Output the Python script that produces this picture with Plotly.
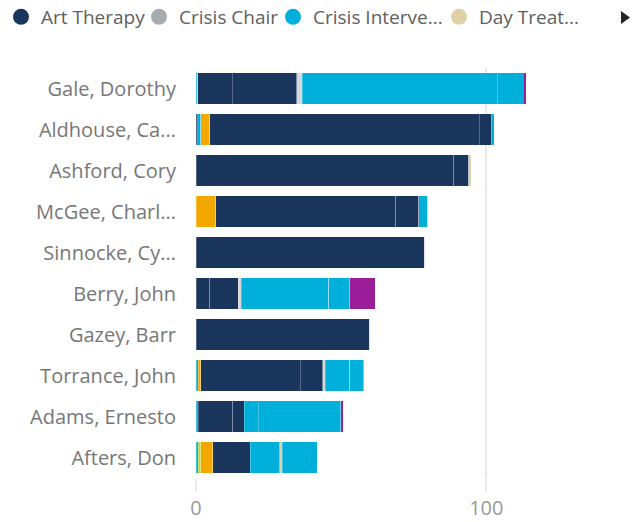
import plotly.graph_objects as go

patients = ["Gale, Dorothy", "Aldhouse, Ca...", "Ashford, Cory", "McGee, Charl...",
            "Sinnocke, Cy...", "Berry, John", "Gazey, Barr", "Torrance, John",
            "Adams, Ernesto", "Afters, Don"]

# stacked segments in drawing order (values per patient, same order as above)
seg_other_navy   = [0, 0.65, 0, 0, 0, 0, 0, 0, 0, 0]
seg_other_cyan   = [0.55, 1.0, 0, 0, 0, 0, 0, 0.7, 0.7, 0.7]
seg_other_green  = [0, 0, 0, 0, 0, 0, 0, 0, 0, 1.0]
seg_other_orange = [0, 3.1, 0, 6.8, 0, 0, 0, 1.0, 0, 4.0]
art_therapy      = [12.0, 92.9, 88.7, 62.0, 78.8, 4.7, 59.8, 34.2, 12.0, 13.0]
art_therapy_2    = [22.2, 4.0, 5.2, 8.0, 0, 9.8, 0, 7.8, 3.9, 0]
crisis_chair     = [1.9, 0, 0, 0, 0, 1.1, 0, 0.9, 0, 0]
crisis_interv    = [67.2, 1.1, 0, 3.1, 0, 30.1, 0, 8.3, 4.9, 10.1]
day_treatment    = [0, 0, 0.9, 0, 0, 0, 0, 0, 0, 0.9]
crisis_interv_2  = [8.9, 0, 0, 0, 0, 7.2, 0, 4.8, 28.3, 12.1]
seg_other_purple = [0.95, 0, 0, 0, 0, 8.9, 0, 0, 0.9, 0]

legend_labels = ["Art Therapy", "Crisis Chair", "Crisis Interve...", "Day Treat..."]

NAVY = "#1B365D"
GRAY = "#D5D8DA"
GRAY_LEG = "#A5ABAE"
CYAN = "#00B0DA"
TAN = "#DFD1A7"
ORANGE = "#F3A800"
PURPLE = "#9A1F99"
GREEN = "#C4D62E"

segments = [
    ("Other", seg_other_navy, NAVY),
    ("Crisis Intervention", seg_other_cyan, CYAN),
    ("Other", seg_other_green, GREEN),
    ("Other", seg_other_orange, ORANGE),
    ("Art Therapy", art_therapy, NAVY),
    ("Art Therapy", art_therapy_2, NAVY),
    ("Crisis Chair", crisis_chair, GRAY),
    ("Crisis Intervention", crisis_interv, CYAN),
    ("Day Treatment", day_treatment, TAN),
    ("Crisis Intervention", crisis_interv_2, CYAN),
    ("Other", seg_other_purple, PURPLE),
]

# page body has an 8px margin, so the figure is 8px smaller than the window
W, H = 633, 514
L, R, T, B = 188, 20, 60, 44
PW, PH = W - L - R, H - T - B


def px_x(fx):
    return (fx - L) / PW


def px_y(fy):
    return (T + PH - fy) / PH


fig = go.Figure()
for name, vals, col in segments:
    fig.add_trace(go.Bar(
        y=patients, x=vals, orientation="h", name=name, showlegend=False,
        marker=dict(color=col, line=dict(color="rgba(255,255,255,0.25)", width=1)),
    ))

legend_ids = ["legend", "legend2", "legend3", "legend4"]
legend_left_px = [-7, 131, 265, 431]  # left edge of each legend group (figure px)
for lab, col, lid in zip(legend_labels, [NAVY, GRAY_LEG, CYAN, TAN], legend_ids):
    fig.add_trace(go.Scatter(
        x=[None], y=[None], mode="markers", name=lab, legend=lid,
        marker=dict(symbol="circle", size=20, color=col),
    ))

FONT = "Open Sans, Noto Sans, sans-serif"
LEG_Y = px_y(9)

legend_style = dict(orientation="h", xref="paper", yref="paper", xanchor="left",
                    yanchor="middle", y=LEG_Y, font=dict(size=19, color="#606060"),
                    itemclick=False, bgcolor="rgba(0,0,0,0)")

# legend scroll arrow (decorative triangle)
arrow_path = "M {:.4f},{:.4f} L {:.4f},{:.4f} L {:.4f},{:.4f} Z".format(
    px_x(613), px_y(3), px_x(622), px_y(9.5), px_x(613), px_y(16))

fig.update_layout(
    barmode="stack",
    bargap=0.22,
    width=W, height=H,
    margin=dict(l=L, r=R, t=T, b=B, autoexpand=False),
    paper_bgcolor="white", plot_bgcolor="white",
    font=dict(family=FONT, color="#777777", size=19),
    xaxis=dict(range=[0, 146.4], tickvals=[0, 100], ticktext=["0", "100"],
               showgrid=True, gridcolor="#E8E8E8", gridwidth=2, zeroline=False,
               ticks="outside", ticklen=12, tickcolor="#E8E8E8", tickwidth=2,
               tickfont=dict(size=20, color="#9A9A9A"), showline=False, fixedrange=True),
    yaxis=dict(categoryorder="array", categoryarray=patients, autorange="reversed",
               showgrid=False, zeroline=False, showline=False, ticks="",
               ticklabelstandoff=19, tickfont=dict(size=20, color="#777777"), fixedrange=True),
    shapes=[dict(type="path", xref="paper", yref="paper", path=arrow_path,
                 fillcolor="#252525", line=dict(width=0))],
)
for lid, lx in zip(legend_ids, legend_left_px):
    fig.update_layout({lid: dict(legend_style, x=px_x(lx))})

fig.write_html("out.html")
